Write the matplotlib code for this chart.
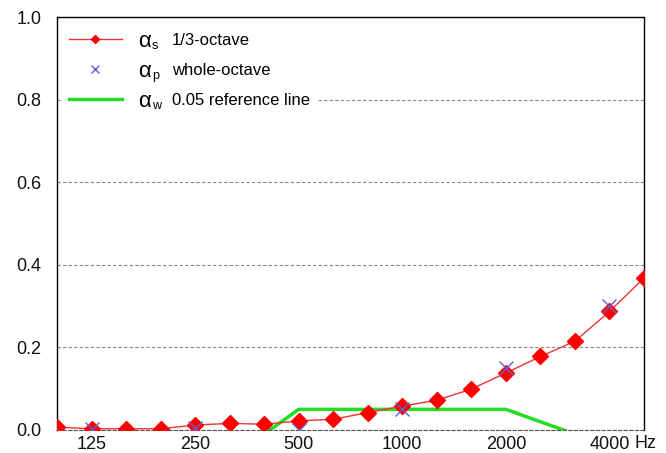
import numpy as np
import matplotlib.pyplot as plt

plt.rcParams['font.family'] = ['Liberation Sans', 'DejaVu Sans']

# 1/3-octave bands, 100 Hz .. 5000 Hz
bands = [100, 125, 160, 200, 250, 315, 400, 500, 630, 800, 1000,
         1250, 1600, 2000, 2500, 3150, 4000, 5000]
alpha_s = [0.007, 0.003, 0.003, 0.003, 0.012, 0.016, 0.014, 0.022, 0.026,
           0.042, 0.058, 0.072, 0.099, 0.138, 0.178, 0.215, 0.287, 0.368]

# whole-octave values
octaves = [125, 250, 500, 1000, 2000, 4000]
alpha_p = [0.003, 0.005, 0.0, 0.05, 0.15, 0.30]

# shifted reference curve (clipped at 0 by the axes)
ref_bands = [250, 500, 1000, 2000, 4000]
ref_vals = [-0.13, 0.05, 0.05, 0.05, -0.04]

tick_labels = ['125', '250', '500', '1000', '2000', '4000']

pos = {f: i for i, f in enumerate(bands)}
x_s = [pos[f] for f in bands]
x_p = [pos[f] for f in octaves]
x_r = [pos[f] for f in ref_bands]

fig = plt.figure(figsize=(6.66, 4.53), dpi=100)
ax = fig.add_axes([57 / 666, 1 - 430 / 453, (644 - 57) / 666, (430 - 17) / 453])

ax.plot(x_r, ref_vals, color='#22dd22', lw=2.5, zorder=2, label='0.05 reference line')
ax.plot(x_s, alpha_s, color='#ee3333', lw=1, marker='D', ms=8, mfc='red', mec='red',
        zorder=3, label='1/3-octave')
ax.plot(x_p, alpha_p, ls='none', marker='x', ms=10, mew=1, color='#6a5acd',
        zorder=4, label='whole-octave')

ax.set_xlim(0, len(bands) - 1)
ax.set_ylim(0, 1.0)
ax.set_yticks(np.arange(0, 1.01, 0.2))
ax.set_yticklabels(['0.0', '0.2', '0.4', '0.6', '0.8', '1.0'])
ax.set_xticks(x_p)
ax.set_xticklabels(tick_labels)
ax.tick_params(axis='both', length=0, labelsize=13, colors='#111111')
ax.tick_params(axis='y', pad=11)
ax.tick_params(axis='x', pad=4)
ax.text(x_p[-1] + 0.72, -0.012, 'Hz', transform=ax.get_xaxis_transform(),
        fontsize=13, ha='left', va='top', color='#111111')

ax.yaxis.grid(True, color='#888888', ls=(0, (3, 2)), lw=0.8)
for name in ['left', 'right', 'top']:
    ax.spines[name].set_linestyle((0, (2, 1)))
    ax.spines[name].set_linewidth(1)
ax.spines['bottom'].set_linestyle((0, (3, 2)))
ax.spines['bottom'].set_color('#555555')

h, l = ax.get_legend_handles_labels()
order = [1, 2, 0]
leg = ax.legend([h[i] for i in order], [l[i] for i in order], loc='upper left',
                fontsize=12, frameon=True, facecolor='white', edgecolor='none',
                framealpha=1, fancybox=False, handlelength=3.2, handletextpad=3.0,
                labelspacing=0.9, markerscale=0.55, borderaxespad=0.3,
                bbox_to_anchor=(0.0, 0.99))

subs = ['s', 'p', 'w']
for t, s in zip(leg.get_texts(), subs):
    a = ax.annotate('\u03b1', xy=(0, 0.5), xycoords=t, xytext=(-34, -1),
                    textcoords='offset pixels', ha='left', va='center',
                    fontsize=16, zorder=10)
    ax.annotate(s, xy=(1, 0), xycoords=a, xytext=(1, 0),
                textcoords='offset pixels', ha='left', va='bottom',
                fontsize=9, zorder=10)

fig.savefig('out.png', dpi=100)
